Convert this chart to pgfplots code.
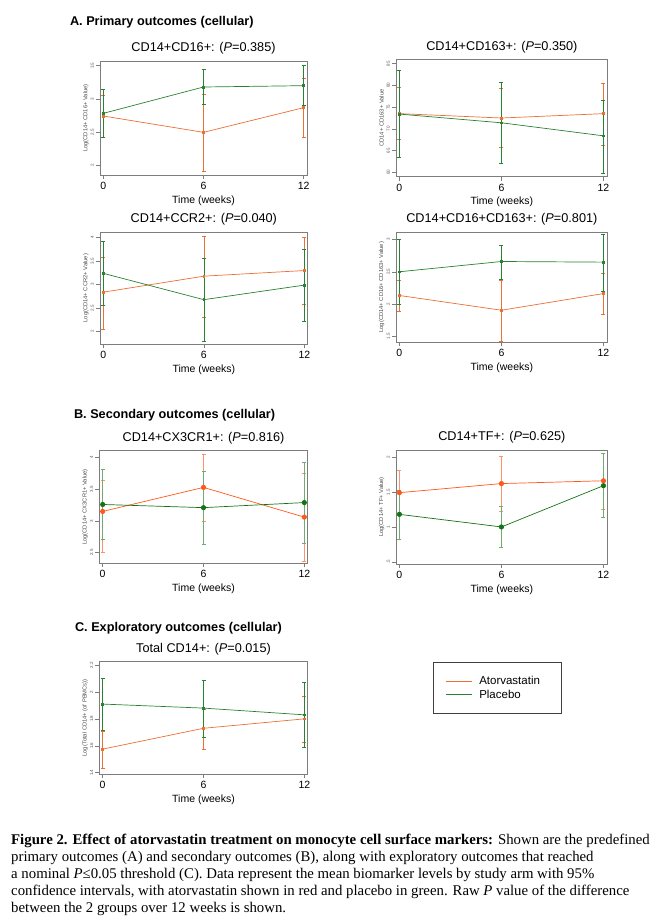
\documentclass[border=0pt]{standalone}
\usepackage{pgfplots}
\pgfplotsset{compat=1.18}
\usepackage{pgfplotstable}
\usepackage{fontspec}
\setmainfont{Liberation Sans}
\newfontfamily\capfont{Liberation Serif}
\definecolor{ator}{RGB}{234,112,52}
\definecolor{plac}{RGB}{40,130,50}
\definecolor{atorB}{RGB}{255,88,28}
\definecolor{placB}{RGB}{20,115,20}
\definecolor{frame}{RGB}{125,125,125}

% columns: x mean lower upper
\pgfplotstableread{
x y lo hi
0 2.745 2.43 3.05
6 2.50 1.92 3.07
12 2.87 2.43 3.31
}\Aa
\pgfplotstableread{
x y lo hi
0 2.785 2.43 3.14
6 3.18 2.92 3.45
12 3.20 2.90 3.50
}\Ap
\pgfplotstableread{
x y lo hi
0 73.5 67.7 79.5
6 72.5 65.8 79.3
12 73.5 66.3 80.6
}\Ba
\pgfplotstableread{
x y lo hi
0 73.4 63.5 83.5
6 71.4 62.1 80.8
12 68.4 59.8 76.6
}\Bp
\pgfplotstableread{
x y lo hi
0 2.84 2.06 3.58
6 3.18 2.30 4.04
12 3.30 2.59 4.00
}\Ca
\pgfplotstableread{
x y lo hi
0 3.24 2.56 3.92
6 2.68 1.80 3.56
12 2.99 2.23 3.75
}\Cp
\pgfplotstableread{
x y lo hi
0 2.13 1.89 2.37
6 1.90 1.41 2.37
12 2.16 1.84 2.48
}\Da
\pgfplotstableread{
x y lo hi
0 2.50 2.00 3.00
6 2.66 2.38 2.92
12 2.65 2.20 3.08
}\Dp
\pgfplotstableread{
x y lo hi
0 3.15 2.51 3.64
6 3.53 3.00 4.06
12 3.06 2.37 3.75
}\Ea
\pgfplotstableread{
x y lo hi
0 3.26 2.71 3.82
6 3.21 2.63 3.79
12 3.29 2.65 3.93
}\Ep
\pgfplotstableread{
x y lo hi
0 1.49 1.17 1.81
6 1.62 1.23 2.01
12 1.66 1.26 2.06
}\Fa
\pgfplotstableread{
x y lo hi
0 1.18 0.82 1.53
6 1.00 0.71 1.29
12 1.59 1.14 2.06
}\Fp
\pgfplotstableread{
x y lo hi
0 1.575 1.43 1.71
6 1.73 1.575 1.87
12 1.80 1.625 1.97
}\Ga
\pgfplotstableread{
x y lo hi
0 1.91 1.715 2.105
6 1.88 1.66 2.09
12 1.83 1.59 2.075
}\Gp

\pgfplotsset{
  pan/.style={
    scale only axis, anchor=south west,
    xmin=-0.2, xmax=12.2,
    xtick={0,6,12},
    axis line style={frame, line width=0.7pt},
    tick align=outside,
    major tick length=4pt,
    tick style={frame, line width=0.5pt},
    xtick pos=bottom, ytick pos=left,
    /pgf/number format/assume math mode=true,
    xticklabel style={font=\fontsize{10.5}{12}\selectfont, anchor=north, inner sep=0pt},
    xticklabel shift=3pt,
    yticklabel style={font=\fontsize{4.5}{5}\selectfont, rotate=90, anchor=south, inner sep=0pt, text=black!65},
    yticklabel shift=2pt,
    ylabel style={font=\fontsize{5.8}{6}\selectfont, text=black!70, at={(axis description cs:-0.068,0.5)}, anchor=center},
    xlabel={Time (weeks)},
    xlabel style={font=\fontsize{10.5}{12}\selectfont, at={(axis description cs:0.5,0)}, anchor=center, yshift=-25.5pt},
    title style={font=\fontsize{12.7}{14}\selectfont, at={(axis description cs:0.5,1)}, anchor=center, yshift=6.5pt},
    error bars/y dir=both, error bars/y explicit,
    error bars/error mark options={rotate=90, mark size=2pt, line width=0.5pt},
    error bars/error bar style={line width=0.5pt},
  },
  la/.style={color=ator, line width=0.7pt, mark=square*, mark size=0.9pt},
  lp/.style={color=plac, line width=0.7pt, mark=square*, mark size=0.9pt},
  lab/.style={color=atorB, line width=0.7pt, mark=*, mark size=2.2pt,
     error bars/error bar style={color=atorB!65, line width=0.5pt}},
  lpb/.style={color=placB, line width=0.7pt, mark=*, mark size=2.2pt,
     error bars/error bar style={color=placB!60, line width=0.5pt}},
  table/ci/.style={x=x, y=y, y error plus expr=\thisrow{hi}-\thisrow{y}, y error minus expr=\thisrow{y}-\thisrow{lo}},
}

\begin{document}
\begin{tikzpicture}
\path[use as bounding box] (0,0) rectangle (660pt,-919pt);

\node[anchor=west, font=\fontsize{12.7}{14}\selectfont\bfseries] at (66.5pt,-22.7pt) {A. Primary outcomes (cellular)};
\node[anchor=west, font=\fontsize{12.7}{14}\selectfont\bfseries] at (70.5pt,-415pt) {B. Secondary outcomes (cellular)};
\node[anchor=west, font=\fontsize{12.7}{14}\selectfont\bfseries] at (71.5pt,-628.3pt) {C. Exploratory outcomes (cellular)};

% Panel 1
\begin{axis}[pan, at={(100pt,-175pt)}, width=207pt, height=114pt,
  ymin=1.86, ymax=3.57, ytick={2,2.5,3,3.5},
  ylabel={Log(CD14+ CD16+ Value)},
  title={CD14+CD16+: (\textit{P}=0.385)}]
\addplot[la] table[ci] {\Aa};
\addplot[lp] table[ci] {\Ap};
\end{axis}

% Panel 2
\begin{axis}[pan, at={(396pt,-176.7pt)}, width=211.7pt, height=117.4pt,
  xmin=-0.2, xmax=12.25,
  ymin=59, ymax=86, ytick={60,65,70,75,80,85},
  ylabel={CD14+ CD163+ Value},
  title={CD14+CD163+: (\textit{P}=0.350)}]
\addplot[la] table[ci] {\Ba};
\addplot[lp] table[ci] {\Bp};
\end{axis}

% Panel 3
\begin{axis}[pan, at={(100pt,-344.3pt)}, width=207.7pt, height=112.3pt,
  ymin=1.73, ymax=4.12, ytick={2,2.5,3,3.5,4},
  ylabel={Log(CD14+ CCR2+ Value)},
  title={CD14+CCR2+: (\textit{P}=0.040)}]
\addplot[la] table[ci] {\Ca};
\addplot[lp] table[ci] {\Cp};
\end{axis}

% Panel 4
\begin{axis}[pan, at={(396pt,-342.3pt)}, width=211.7pt, height=110.3pt,
  xmin=-0.2, xmax=12.25,
  ymin=1.40, ymax=3.12, ytick={1.5,2,2.5,3},
  ylabel={Log(CD14+ CD16+ CD163+ Value)},
  title={CD14+CD16+CD163+: (\textit{P}=0.801)}]
\addplot[la] table[ci] {\Da};
\addplot[lp] table[ci] {\Dp};
\end{axis}

% Panel 5
\begin{axis}[pan, at={(99.3pt,-563.3pt)}, width=208.4pt, height=112.6pt,
  ymin=2.33, ymax=4.11, ytick={2.5,3,3.5,4},
  ylabel={Log(CD14+ CX3CR1+ Value)},
  title={CD14+CX3CR1+: (\textit{P}=0.816)}]
\addplot[lab] table[ci] {\Ea};
\addplot[lpb] table[ci] {\Ep};
\end{axis}

% Panel 6
\begin{axis}[pan, at={(396pt,-564pt)}, width=211.7pt, height=114pt,
  xmin=-0.2, xmax=12.25,
  ymin=0.47, ymax=2.1, ytick={0.5,1,1.5,2}, yticklabels={.5,1,1.5,2},
  ylabel={Log(CD14+ TF+ Value)},
  title={CD14+TF+: (\textit{P}=0.625)}]
\addplot[lab] table[ci] {\Fa};
\addplot[lpb] table[ci] {\Fp};
\end{axis}

% Panel 7
\begin{axis}[pan, at={(99.3pt,-774pt)}, width=208.4pt, height=112.3pt,
  ymin=1.39, ymax=2.225, ytick={1.4,1.6,1.8,2,2.2},
  ylabel={Log(Total CD14+ (of PBMCs))},
  title={Total CD14+: (\textit{P}=0.015)},
  legend style={at={(1.601,0.997)}, anchor=north west, draw=black!75, line width=0.6pt,
     font=\fontsize{11.5}{13}\selectfont, inner xsep=12pt, inner ysep=13pt,
     row sep=1.5pt, nodes={inner sep=1pt}},
  legend cell align=left,
  legend image code/.code={\draw[#1, line width=1.4pt] (0pt,0pt) -- (26pt,0pt); \path (32pt,0pt);}]
\addplot[la, forget plot] table[ci] {\Ga};
\addplot[lp, forget plot] table[ci] {\Gp};
\addlegendimage{color=ator}
\addlegendentry{Atorvastatin\hspace*{8pt}}
\addlegendimage{color=plac}
\addlegendentry{Placebo}
\end{axis}

\node[anchor=north west, align=left, inner sep=0pt, font=\capfont\fontsize{14.8}{17}\selectfont] at (11pt,-833.5pt) {%
\textbf{Figure 2. Effect of atorvastatin treatment on monocyte cell surface markers:} Shown are the predefined\\
primary outcomes (A) and secondary outcomes (B), along with exploratory outcomes that reached\\
a nominal \textit{P}≤0.05 threshold (C). Data represent the mean biomarker levels by study arm with 95\%\\
confidence intervals, with atorvastatin shown in red and placebo in green. Raw \textit{P} value of the difference\\
between the 2 groups over 12 weeks is shown.};
\end{tikzpicture}
\end{document}
